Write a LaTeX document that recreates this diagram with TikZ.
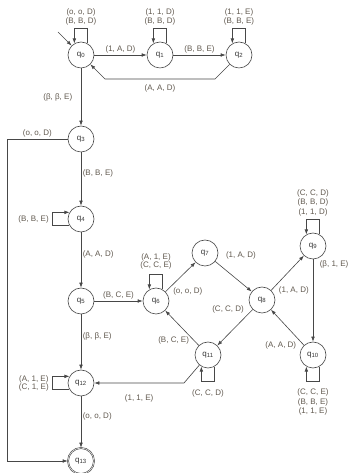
\documentclass[tikz,border=0pt]{standalone}
\usepackage{fontspec}
\setmainfont{Liberation Sans}
\usepackage{tikz}
\usetikzlibrary{arrows.meta, positioning, calc}
\definecolor{inkgray}{rgb}{0.28, 0.28, 0.28}
\definecolor{labelgray}{rgb}{0.38, 0.35, 0.31}

\begin{document}
\begin{tikzpicture}[x=1pt, y=1pt,
	qstate/.style={circle, draw=inkgray, line width=0.6pt, minimum size=26pt, inner sep=0pt, font=\fontsize{8}{9}\selectfont, text=black!80},
	qfinal/.style={qstate, double, double distance=0.5pt},
	lbl/.style={font=\fontsize{8}{9.5}\selectfont, text=labelgray, align=center, inner sep=1.5pt},
	tr/.style={draw=inkgray, line width=0.6pt, -{Latex[length=5pt, width=3.6pt]}}]
						\useasboundingbox (0,0) rectangle (349,473);
						
						%% states
						\node[qstate] (q0) at (81,418) {q\textsubscript{0}};
						\node[qstate] (q1) at (160,418) {q\textsubscript{1}};
						\node[qstate] (q2) at (239,418) {q\textsubscript{2}};
						\node[qstate] (q3) at (81,334) {q\textsubscript{3}};
						\node[qstate] (q4) at (81,254) {q\textsubscript{4}};
						\node[qstate] (q5) at (81,172) {q\textsubscript{5}};
						\node[qstate] (q6) at (156,172) {q\textsubscript{6}};
						\node[qstate] (q7) at (205,220) {q\textsubscript{7}};
						\node[qstate] (q8) at (262,173) {q\textsubscript{8}};
						\node[qstate] (q9) at (313,227) {q\textsubscript{9}};
						\node[qstate] (q10) at (313,118) {q\textsubscript{10}};
						\node[qstate] (q11) at (208,118) {q\textsubscript{11}};
						\node[qstate] (q12) at (81,90) {q\textsubscript{12}};
						\node[qfinal] (q13) at (81,12) {q\textsubscript{13}};
						
						\coordinate (start) at (58,441);
						\coordinate (b20) at (215,394);
						\coordinate (b02) at (105,394);
						\coordinate (c3) at (7,334);
						\coordinate (c13) at (7,12);
						\coordinate (b11) at (184,90);
						
						%% top row
						\draw[tr] (start) -- (q0);
						\draw[tr] (q0.60) -- ++(0,15) -| node[lbl, pos=0.25, above=2pt] {(o, o, D)\\[-0.5pt](B, B, D)} (q0.120);
						\draw[tr] (q1.60) -- ++(0,15) -| node[lbl, pos=0.25, above=2pt] {(1, 1, D)\\[-0.5pt](B, B, D)} (q1.120);
						\draw[tr] (q2.60) -- ++(0,15) -| node[lbl, pos=0.25, above=2pt] {(1, 1, E)\\[-0.5pt](B, B, E)} (q2.120);
						\draw[tr] (q0) -- node[lbl, above] {(1, A, D)} (q1);
						\draw[tr] (q1) -- node[lbl, above] {(B, B, E)} (q2);
						\draw[tr] (q2) -- (b20) -- node[lbl, below=3.5pt] {(A, A, D)} (b02) -- (q0);
						
						%% left column
						\draw[tr] (q0) -- node[lbl, left=7pt] {(β, β, E)} (q3);
						\draw[tr] (q3) -- node[lbl, above] {(o, o, D)} (c3) -- (c13) -- (q13);
						\draw[tr] (q3) -- node[lbl, pos=0.4, right] {(B, B, E)} (q4);
						\draw[tr] (q4.210) -- ++(-17,0) |- node[lbl, pos=0.25, left=2pt] {(B, B, E)} (q4.150);
						\draw[tr] (q4) -- node[lbl, pos=0.4, right] {(A, A, D)} (q5);
						\draw[tr] (q5) -- node[lbl, above] {(B, C, E)} (q6);
						\draw[tr] (q5) -- node[lbl, pos=0.4, right] {(β, β, E)} (q12);
						\draw[tr] (q12.210) -- ++(-17,0) |- node[lbl, pos=0.25, left=2pt] {(A, 1, E)\\[-1.5pt](C, 1, E)} (q12.150);
						\draw[tr] (q12) -- node[lbl, pos=0.4, right] {(o, o, D)} (q13);
						
						%% right part
						\draw[tr] (q6.60) -- ++(0,15) -| node[lbl, pos=0.25, above=4pt] {(A, 1, E)\\[-1.5pt](C, C, E)} (q6.120);
						\draw[tr] (q6) -- node[lbl, pos=0, anchor=west, xshift=6pt] {(o, o, D)} (q7);
						\draw[tr] (q7) -- node[lbl, pos=0, anchor=west, xshift=9pt, yshift=6pt] {(1, A, D)} (q8);
						\draw[tr] (q8) -- node[lbl, pos=0, anchor=west, xshift=6pt] {(1, A, D)} (q9);
						\draw[tr] (q9.60) -- ++(0,15) -| node[lbl, pos=0.25, above=2pt] {(C, C, D)\\(B, B, D)\\(1, 1, D)} (q9.120);
						\draw[tr] (q9) -- node[lbl, pos=0, anchor=north west, xshift=5pt] {(β, 1, E)} (q10);
						\draw[tr] (q10.-60) -- ++(0,-15) -| node[lbl, pos=0.25, below=5.5pt] {(C, C, E)\\(B, B, E)\\(1, 1, E)} (q10.-120);
						\draw[tr] (q10) -- node[lbl, pos=0, anchor=east, xshift=-6pt] {(A, A, D)} (q8);
						\draw[tr] (q8) -- node[lbl, pos=0, anchor=east, xshift=-7pt] {(C, C, D)} (q11);
						\draw[tr] (q11.-60) -- ++(0,-15) -| node[lbl, pos=0.25, below=6.5pt] {(C, C, D)} (q11.-120);
						\draw[tr] (q11) -- node[lbl, pos=0, anchor=east, xshift=-8pt, yshift=5pt] {(B, C, E)} (q6);
						\draw[tr] (q11) -- (b11) -- node[lbl, below=9.5pt] {(1, 1, E)} (q12);
\end{tikzpicture}
\end{document}
